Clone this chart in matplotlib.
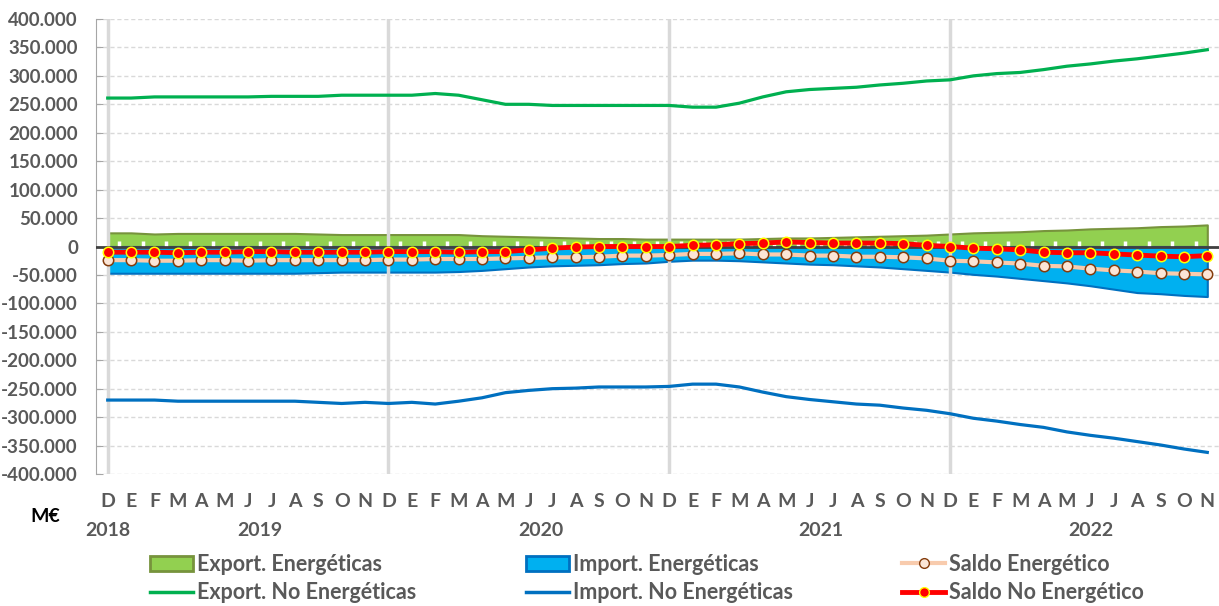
import matplotlib
matplotlib.use("Agg")
import matplotlib.pyplot as plt
import numpy as np
from matplotlib.patches import Patch
from matplotlib.lines import Line2D
from matplotlib.ticker import FuncFormatter, MultipleLocator

plt.rcParams['font.family'] = ['Lato', 'DejaVu Sans']

# months Dec 2018 .. Nov 2022
months = ['D'] + ['E', 'F', 'M', 'A', 'M', 'J', 'J', 'A', 'S', 'O', 'N', 'D'] * 3 + \
         ['E', 'F', 'M', 'A', 'M', 'J', 'J', 'A', 'S', 'O', 'N']
years = ['2018', '2019', '2020', '2021', '2022']
year_pos = [0, 6.5, 18.5, 30.5, 42]

# values in thousands of M€
export_ne = [261,
             261, 263, 263, 263, 263, 263, 264, 264, 264, 266, 266, 266,
             266, 269, 266, 258, 250, 250, 248, 248, 248, 248, 248, 248,
             245, 245, 252, 263, 272, 276, 278, 280, 284, 287, 291, 293,
             300, 304, 306, 311, 317, 321, 326, 330, 335, 340, 346]
import_ne = [-270,
             -270, -270, -272, -272, -272, -272, -272, -272, -274, -276, -274, -276,
             -274, -277, -272, -266, -257, -253, -250, -249, -247, -247, -247, -246,
             -242, -242, -247, -256, -264, -269, -273, -277, -279, -284, -288, -294,
             -302, -307, -313, -318, -326, -332, -337, -343, -349, -356, -362]
export_e = [24,
            24, 22, 23, 23, 23, 23, 23, 23, 22, 21, 21, 21,
            21, 21, 21, 19, 18, 17, 16, 15, 14, 14, 13, 13,
            13, 13, 13, 14, 15, 15, 16, 17, 18, 19, 20, 22,
            24, 25, 26, 28, 29, 31, 32, 33, 35, 36, 38]
import_e = [-47,
            -47, -47, -47, -47, -47, -47, -47, -47, -46, -45, -45, -45,
            -45, -45, -44, -42, -39, -36, -34, -33, -32, -30, -29, -26,
            -24, -24, -25, -27, -29, -31, -32, -34, -36, -39, -42, -45,
            -49, -52, -56, -60, -64, -69, -75, -81, -83, -86, -88]
saldo_e = [-24,
           -24, -25, -25, -24, -24, -25, -24, -24, -24, -24, -24, -23,
           -23, -22, -22, -22, -21, -20, -19, -19, -18, -16, -16, -15,
           -13, -13, -12, -14, -14, -16, -16, -18, -18, -19, -21, -25,
           -26, -28, -30, -34, -35, -39, -42, -44, -47, -48, -49]
saldo_ne = [-10,
            -10, -10, -11, -10, -10, -9, -9, -10, -10, -10, -10, -9,
            -9, -9, -10, -9, -9, -6, -3, -1, 0, 0, 0, 0,
            2, 3, 5, 6, 8, 7, 6, 6, 6, 5, 2, 0,
            -3, -4, -6, -10, -11, -11, -13, -15, -17, -18, -16]

x = np.arange(len(months))
k = 1000
export_ne = np.array(export_ne) * k
import_ne = np.array(import_ne) * k
export_e = np.array(export_e) * k
import_e = np.array(import_e) * k
saldo_e = np.array(saldo_e) * k
saldo_ne = np.array(saldo_ne) * k

W, H = 1219, 606
fig = plt.figure(figsize=(W / 100, H / 100), dpi=100)
ax = fig.add_axes([96 / W, 1 - 474 / H, (W - 96) / W, 455 / H])

gray_txt = '#595959'

ax.fill_between(x, 0, export_e, facecolor='#92D050', edgecolor='#77933C', lw=1.5, zorder=1)
ax.fill_between(x, 0, import_e, facecolor='#00B0F0', edgecolor='#0070C0', lw=1.5, zorder=1)

for d in [0, 12, 24, 36]:
    ax.axvline(d, color='#D9D9D9', lw=2.5, zorder=2)

ax.vlines(np.arange(0.5, len(months) - 1, 1), 0, 9000, colors='white', lw=2.5, zorder=2.5)
ax.axhline(0, color='#404040', lw=2, zorder=3)

ax.plot(x, export_ne, color='#00B050', lw=2.3, zorder=4)
ax.plot(x, import_ne, color='#0070C0', lw=2.3, zorder=4)
ax.plot(x, saldo_e, color='#F8CBAD', lw=3, marker='o', ms=7.5,
        mfc='#FBE5D6', mec='#843C0C', mew=1.1, zorder=5)
ax.plot(x, saldo_ne, color='#FF0000', lw=3.5, marker='o', ms=7.5,
        mfc='#FF0000', mec='#FFFF00', mew=1.1, zorder=6)

ax.set_xlim(-0.5, len(months) - 0.5)
ax.set_ylim(-400000, 400000)
ax.yaxis.set_major_locator(MultipleLocator(50000))
ax.yaxis.set_major_formatter(FuncFormatter(lambda v, p: f"{v:,.0f}".replace(',', '.')))
ax.grid(axis='y', color='#D9D9D9', ls=(0, (3, 2)), lw=1, zorder=0)
ax.set_axisbelow(True)

for s in ['top', 'right', 'bottom']:
    ax.spines[s].set_visible(False)
ax.spines['left'].set_color('#A6A6A6')
ax.tick_params(axis='y', direction='in', length=5, color='#A6A6A6', pad=13,
               labelsize=13.5, labelcolor=gray_txt)
for t in ax.get_yticklabels():
    t.set_fontweight('bold')

ax.set_xticks(x)
ax.set_xticklabels(months, fontsize=14, fontweight='bold', color=gray_txt)
ax.tick_params(axis='x', length=0, pad=14)

for yr, p in zip(years, year_pos):
    ax.text(p, -0.125, yr, transform=ax.get_xaxis_transform(), ha='center', va='center',
            fontsize=14, fontweight='bold', color=gray_txt)

fig.text(45 / W, 1 - 516 / H, 'M€', ha='center', va='center', fontsize=14,
         fontweight='bold', color='black')

h_exp_e = Patch(facecolor='#92D050', edgecolor='#77933C', lw=2)
h_imp_e = Patch(facecolor='#00B0F0', edgecolor='#0070C0', lw=2)
h_exp_ne = Line2D([], [], color='#00B050', lw=2.5)
h_imp_ne = Line2D([], [], color='#0070C0', lw=2.5)
h_sal_e = Line2D([], [], color='#F8CBAD', lw=3, marker='o', ms=7, mfc='#FBE5D6', mec='#843C0C')
h_sal_ne = Line2D([], [], color='#FF0000', lw=3.5, marker='o', ms=7, mfc='#FF0000', mec='#FFFF00')

cols = [
    (150, [h_exp_e, h_exp_ne], ['Export. Energéticas', 'Export. No Energéticas']),
    (526, [h_imp_e, h_imp_ne], ['Import. Energéticas', 'Import. No Energéticas']),
    (902, [h_sal_e, h_sal_ne], ['Saldo Energético', 'Saldo No Energético']),
]
for xp, hs, ls in cols:
    leg = fig.legend(hs, ls, loc='center left', bbox_to_anchor=(xp / W, 1 - 578.5 / H),
                     frameon=False, borderpad=0, borderaxespad=0, handlelength=2.0,
                     handletextpad=0.2, labelspacing=0.35,
                     prop={'size': 15.5, 'weight': 'bold'})
    for t in leg.get_texts():
        t.set_color(gray_txt)

fig.savefig('out.png', dpi=100)
